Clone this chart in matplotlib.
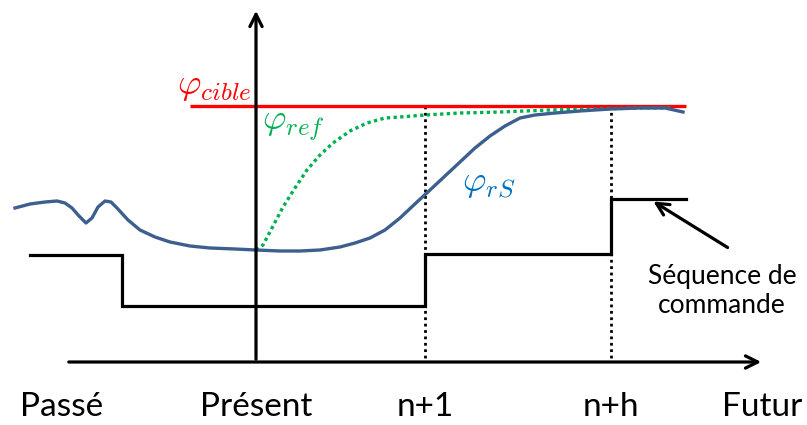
import matplotlib
matplotlib.use("Agg")
import matplotlib.pyplot as plt

plt.rcParams['mathtext.fontset'] = 'cm'

# ---- données (coordonnées pixel) ----
# sortie réelle phi_rS
rs_x = [15, 30, 45, 57, 65, 72, 79, 86, 92, 98, 105, 111, 117, 128, 140, 155, 170, 190,
        210, 235, 256, 280, 300, 320, 340, 355, 370, 385, 400, 417, 430, 445, 460, 475,
        490, 505, 520, 535, 555, 580, 610, 640, 665, 683]
rs_y = [208, 204, 202, 201, 203, 208, 216, 223, 218, 207, 201, 202, 208, 220, 230, 237, 242, 246,
        248, 249, 250, 251, 251, 250, 247, 243, 238, 230, 218, 202, 190, 176, 162, 148,
        136, 126, 118, 115, 113, 111, 109, 108, 108, 112]

# trajectoire de référence phi_ref
ref_x = [256, 263, 272, 283, 295, 307, 320, 333, 350, 367, 385, 400, 425, 460, 500, 550, 600, 640, 673]
ref_y = [250, 245, 228, 207, 188, 170, 155, 143, 131, 123, 118, 117, 115, 113, 112, 110, 109, 108, 108]

# consigne phi_cible
cible_x = [190, 686]
cible_y = [106, 106]

# séquence de commande (escalier)
cmd_x = [30, 122, 122, 425, 425, 611, 611, 686]
cmd_y = [255, 255, 306, 306, 254, 254, 199, 199]

# instants
t_present = 256
t_n1 = 425
t_nh = 611
y_axe = 362

labels_x = [62, 256, 425, 611, 762]
labels = ['Passé', 'Présent', 'n+1', 'n+h', 'Futur']

fig = plt.figure(figsize=(8.07, 4.25), dpi=100)
ax = fig.add_axes([0, 0, 1, 1])
ax.set_xlim(0, 807)
ax.set_ylim(425, 0)
ax.axis('off')

# axes avec flèches
ax.annotate('', xy=(t_present, 8), xytext=(t_present, y_axe),
            arrowprops=dict(arrowstyle='->', lw=2.3, color='black', mutation_scale=22))
ax.annotate('', xy=(764, y_axe), xytext=(66, y_axe),
            arrowprops=dict(arrowstyle='->', lw=2.3, color='black', mutation_scale=22))

# lignes pointillées verticales
for xv in [t_n1, t_nh]:
    ax.plot([xv, xv], [cible_y[0], y_axe], color='black', lw=2, linestyle=(0, (1, 1.3)))

ax.plot(cible_x, cible_y, color='#ff0000', lw=2.4, solid_capstyle='butt')
ax.plot(ref_x, ref_y, color='#00b050', lw=2.4, linestyle=(0, (1, 1)), dash_capstyle='butt')
ax.plot(rs_x, rs_y, color='#3d5f8f', lw=2.4)
ax.plot(cmd_x, cmd_y, color='black', lw=2.3, solid_joinstyle='miter')

# étiquettes grecques
ax.text(214, 86, r'$\varphi_{cible}$', color='#ff0000', fontsize=26, ha='center', va='center')
ax.text(293, 126, r'$\varphi_{ref}$', color='#00b050', fontsize=26, ha='center', va='center')
ax.text(489, 183, r'$\varphi_{rS}$', color='#0070c0', fontsize=26, ha='center', va='center')

# flèche vers la séquence de commande
ax.annotate('', xy=(651, 200), xytext=(730, 249),
            arrowprops=dict(arrowstyle='->', lw=2.3, color='black', mutation_scale=22))
ax.text(722, 291, 'Séquence de\ncommande', fontsize=19, family='Lato', ha='center', va='center',
        linespacing=1.2)

for xl, lab in zip(labels_x, labels):
    ax.text(xl, 407, lab, fontsize=24, family='Lato', ha='center', va='center')

fig.savefig('out.png', dpi=100)
